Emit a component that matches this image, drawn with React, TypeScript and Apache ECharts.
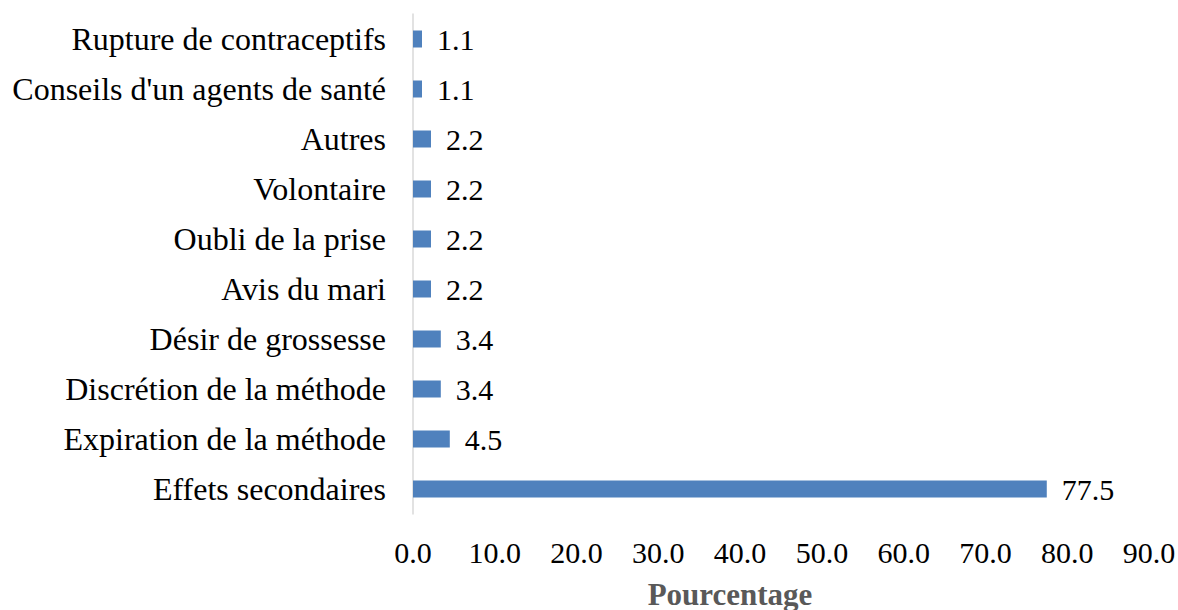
import React, { useEffect, useRef } from "react";
import * as echarts from "echarts";

const categories = [
  "Effets secondaires",
  "Expiration de la méthode",
  "Discrétion de la méthode",
  "Désir de grossesse",
  "Avis du mari",
  "Oubli de la prise",
  "Volontaire",
  "Autres",
  "Conseils d'un agents de santé",
  "Rupture de contraceptifs",
];
const values = [77.5, 4.5, 3.4, 3.4, 2.2, 2.2, 2.2, 2.2, 1.1, 1.1];
const xAxisName = "Pourcentage";

const FONT = "Liberation Serif";

export default function App() {
  const ref = useRef<HTMLDivElement>(null);
  useEffect(() => {
    document.body.style.margin = "0";
    if (!ref.current) return;
    const chart = echarts.init(ref.current, null, { renderer: "svg" });
    chart.setOption({
      animation: false,
      textStyle: { fontFamily: FONT },
      grid: {
        left: 413,
        right: 29,
        top: 14,
        bottom: 96,
        containLabel: false,
        outerBoundsMode: "none",
      },
      xAxis: {
        type: "value",
        min: 0,
        max: 90,
        interval: 10,
        axisLine: { show: false },
        axisTick: { show: false },
        splitLine: { show: false },
        axisLabel: {
          fontFamily: FONT,
          fontSize: 30,
          color: "#000",
          margin: 23,
          formatter: (v: number) => v.toFixed(1),
        },
      },
      yAxis: {
        type: "category",
        data: categories,
        axisLine: { show: true, lineStyle: { color: "#d9d9d9", width: 1.5 } },
        axisTick: { show: false },
        axisLabel: {
          fontFamily: FONT,
          fontSize: 32,
          color: "#000",
          margin: 27,
          padding: [0, 0, 11, 0],
        },
      },
      graphic: [
        {
          type: "text",
          x: 730,
          y: 594,
          style: {
            text: xAxisName,
            fontFamily: FONT,
            fontSize: 31,
            fontWeight: "bold",
            fill: "#595959",
            align: "center",
            verticalAlign: "middle",
          },
        },
      ],
      series: [
        {
          type: "bar",
          data: values,
          barWidth: 17,
          itemStyle: { color: "#4f81bd" },
          label: {
            show: true,
            position: "right",
            distance: 15,
            fontFamily: FONT,
            fontSize: 30,
            color: "#000",
            formatter: (p: any) => Number(p.value).toFixed(1),
          },
        },
      ],
    });
    return () => chart.dispose();
  }, []);
  return <div ref={ref} style={{ width: 1178, height: 610 }} />;
}
